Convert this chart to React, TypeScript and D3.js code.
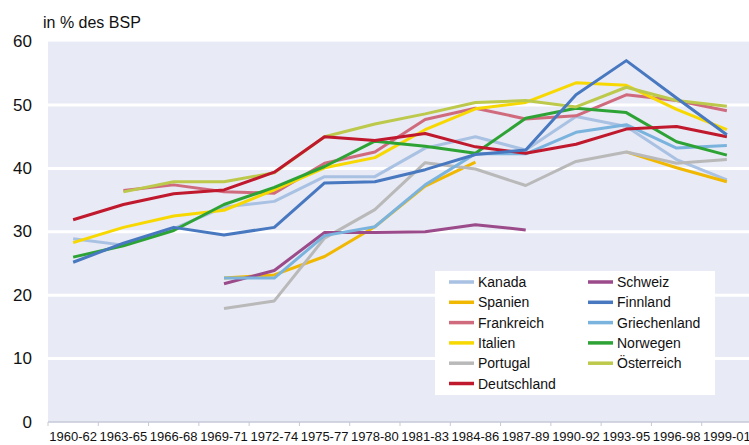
import React from "react";
import * as d3 from "d3";

const periods = [
  "1960-62", "1963-65", "1966-68", "1969-71", "1972-74", "1975-77", "1978-80",
  "1981-83", "1984-86", "1987-89", "1990-92", "1993-95", "1996-98", "1999-01",
];

const kanada = [28.9, 27.9, 30.5, 33.9, 34.8, 38.7, 38.7, 43.2, 45.0, 42.9, 48.2, 46.6, 41.4, 38.2];
const spanien = [null, null, null, 22.7, 23.2, 26.1, 30.8, 37.2, 41.0, null, null, 42.6, 40.1, 37.9];
const frankreich = [null, 36.5, 37.4, 36.3, 36.1, 40.8, 42.6, 47.7, 49.5, 47.8, 48.3, 51.6, 50.7, 49.1];
const italien = [28.3, 30.7, 32.5, 33.4, 36.6, 40.1, 41.7, 46.1, 49.4, 50.4, 53.5, 53.1, 49.3, 46.1];
const portugal = [null, null, null, 17.9, 19.1, 29.0, 33.5, 40.9, 39.9, 37.3, 41.1, 42.6, 40.8, 41.4];
const deutschland = [31.9, 34.3, 36.0, 36.6, 39.4, 45.0, 44.4, 45.5, 43.4, 42.4, 43.8, 46.2, 46.6, 45.0];
const schweiz = [null, null, null, 21.8, 23.9, 29.9, 29.9, 30.0, 31.1, 30.3, null, null, null, null];
const finnland = [25.2, 28.2, 30.7, 29.5, 30.7, 37.7, 37.9, 39.8, 42.2, 42.9, 51.6, 57.0, 51.1, 45.3];
const griechenland = [null, null, null, 22.7, 22.7, 29.4, 30.8, 37.4, 42.3, 42.3, 45.7, 46.9, 43.2, 43.6];
const norwegen = [26.0, 27.8, 30.2, 34.3, 37.0, 40.3, 44.3, 43.5, 42.4, 47.9, 49.5, 48.8, 44.2, 42.1];
const oesterreich = [null, 36.3, 37.9, 37.9, 39.3, 45.0, 47.0, 48.6, 50.4, 50.7, 49.7, 52.8, 50.7, 49.8];

const yTicks = [0, 10, 20, 30, 40, 50, 60];

// draw order = stacking order
const series = [
  { name: "Kanada", color: "#a9c1e2", values: kanada },
  { name: "Spanien", color: "#f0b800", values: spanien },
  { name: "Frankreich", color: "#d06b7e", values: frankreich },
  { name: "Italien", color: "#f7d800", values: italien },
  { name: "Portugal", color: "#b9b9b9", values: portugal },
  { name: "Schweiz", color: "#9b4a8a", values: schweiz },
  { name: "Griechenland", color: "#7ab3dd", values: griechenland },
  { name: "Norwegen", color: "#2ea335", values: norwegen },
  { name: "Österreich", color: "#bcc94a", values: oesterreich },
  { name: "Deutschland", color: "#c0182d", values: deutschland },
  { name: "Finnland", color: "#4878c0", values: finnland },
];

const legendLeft = ["Kanada", "Spanien", "Frankreich", "Italien", "Portugal", "Deutschland"];
const legendRight = ["Schweiz", "Finnland", "Griechenland", "Norwegen", "Österreich"];

const W = 749;
const H = 445;
const font = "'Liberation Sans', Arial, sans-serif";

export default function App() {
  const x = d3.scaleBand().domain(periods).range([48, 752]);
  const y = d3.scaleLinear().domain([0, 60]).range([422, 41.6]);
  const cx = (p: string) => (x(p) as number) + x.bandwidth() / 2;

  const line = d3
    .line<number | null>()
    .defined((d) => d != null)
    .x((_, i) => cx(periods[i]))
    .y((d) => y(d as number));

  const colorOf = (n: string) => series.find((s) => s.name === n)!.color;

  const legendRow = (names: string[], lx: number) =>
    names.map((n, i) => {
      const ly = 282 + i * 20.3;
      return (
        <g key={n}>
          <line x1={lx} x2={lx + 25} y1={ly} y2={ly} stroke={colorOf(n)} strokeWidth={3.5} />
          <text x={lx + 29} y={ly} dominantBaseline="central" fontSize={14} fill="#111">
            {n}
          </text>
        </g>
      );
    });

  return (
    <svg
      width={W}
      height={H}
      style={{ position: "absolute", left: 0, top: 0, background: "#fff" }}
      fontFamily={font}
    >
      <rect x={48} y={y(60)} width={W - 48} height={y(0) - y(60)} fill="#e8eaf5" />
      {yTicks
        .filter((t) => t > 0 && t < 60)
        .map((t) => (
          <line key={t} x1={48} x2={W} y1={y(t)} y2={y(t)} stroke="#fff" strokeWidth={3} />
        ))}
      {yTicks.map((t) => (
        <text key={t} x={32} y={y(t)} textAnchor="end" dominantBaseline="central" fontSize={17} fill="#111">
          {t}
        </text>
      ))}
      <text x={43} y={28} fontSize={16} fill="#111">
        in % des BSP
      </text>

      {/* x axis */}
      <line x1={48} x2={W} y1={422} y2={422} stroke="#c6c9d9" strokeWidth={1.5} />
      {periods.map((p) => (
        <line key={p} x1={x(p)} x2={x(p)} y1={422} y2={426} stroke="#c6c9d9" strokeWidth={1} />
      ))}
      {periods.map((p) => (
        <text key={p} x={cx(p)} y={441} textAnchor="middle" fontSize={13} fill="#111">
          {p}
        </text>
      ))}

      {series.map((s) => (
        <path
          key={s.name}
          d={line(s.values) || ""}
          fill="none"
          stroke={s.color}
          strokeWidth={3}
          strokeLinejoin="round"
        />
      ))}

      <rect x={435} y={271} width={280} height={124} fill="#fff" />
      {legendRow(legendLeft, 449)}
      {legendRow(legendRight, 588)}
    </svg>
  );
}
